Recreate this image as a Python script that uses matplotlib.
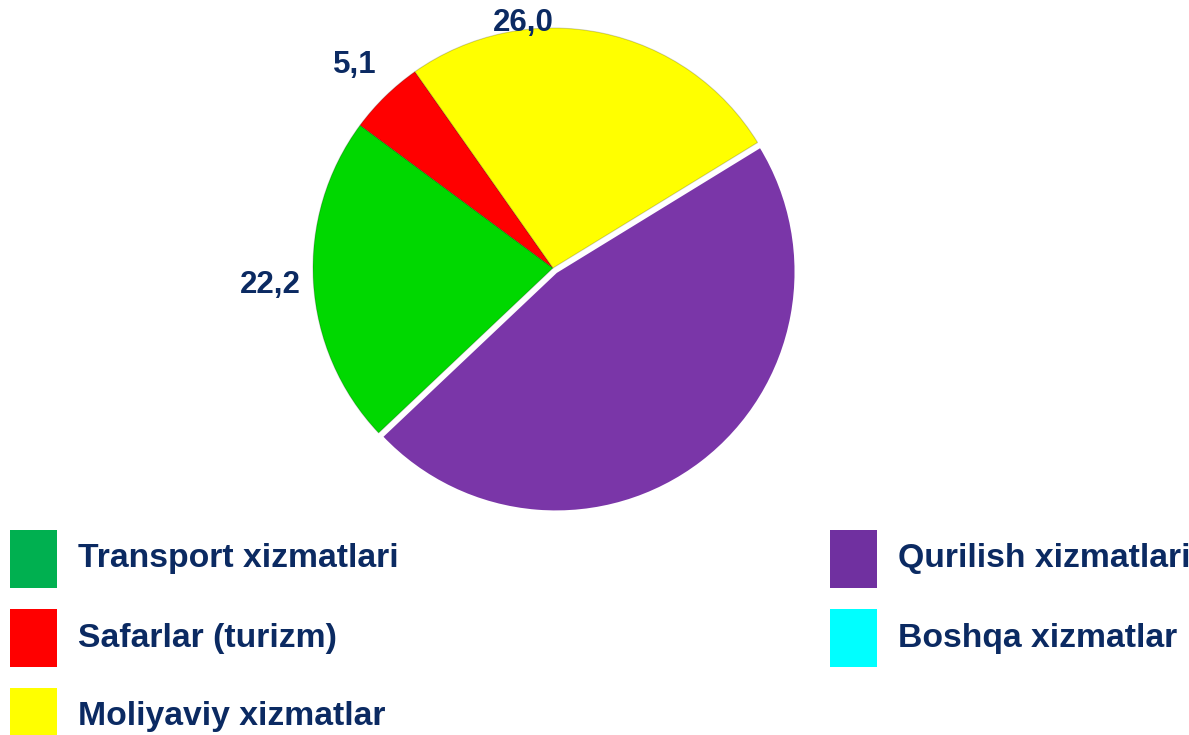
import matplotlib.pyplot as plt
from matplotlib.patches import Rectangle
import numpy as np

plt.rcParams['font.family'] = ['Liberation Sans', 'DejaVu Sans']

# data
categories = ["Transport xizmatlari", "Safarlar (turizm)", "Moliyaviy xizmatlar",
              "Qurilish xizmatlari", "Boshqa xizmatlar"]
shares = [22.2, 5.1, 26.0, 46.7, 0.0]
value_labels = ["22,2", "5,1", "26,0", "", ""]
pie_colors = ["#00D800", "#FF0000", "#FFFF00", "#7A36A8", "#00FFFF"]
legend_colors = ["#00B050", "#FF0000", "#FFFF00", "#7030A0", "#00FFFF"]
text_color = "#0B2A62"

W, H = 1189, 735
fig = plt.figure(figsize=(W / 100, H / 100), dpi=100)

# pie axes: centre (553, 268) px, radius 240 px
cx, cy, r, half = 553, 268, 240, 250
ax = fig.add_axes([(cx - half) / W, (H - cy - half) / H, 2 * half / W, 2 * half / H])

n = 4  # Boshqa has no slice
wedges, texts = ax.pie(shares[:n], colors=pie_colors[:n], labels=value_labels[:n],
                       startangle=223.4, counterclock=False, radius=1.0,
                       explode=[0, 0, 0, 0.02], labeldistance=1.18,
                       wedgeprops=dict(edgecolor="#00000030", linewidth=0.8),
                       textprops=dict(fontsize=22.5, fontweight="bold", color=text_color))
wedges[3].set_edgecolor("white")
wedges[3].set_linewidth(2)
for t in texts:
    t.set_ha("center")
    t.set_va("center")
# the yellow value sits above the slice in the original
ang = np.deg2rad(97)
texts[2].set_position((1.03 * np.cos(ang), 1.03 * np.sin(ang)))

lim = half / r
ax.set_xlim(-lim, lim)
ax.set_ylim(-lim, lim)
ax.set_aspect("equal")
ax.axis("off")

# legend drawn in pixel coordinates (two columns)
for i, (lab, col) in enumerate(zip(categories, legend_colors)):
    c, row = divmod(i, 3)
    x0 = 10 if c == 0 else 830
    top = 530 + 79 * row
    fig.patches.append(Rectangle((x0 / W, 1 - (top + 58) / H), 47 / W, 58 / H,
                                 transform=fig.transFigure, facecolor=col,
                                 edgecolor="none"))
    fig.text((x0 + 68) / W, 1 - (top + 29) / H, lab, fontsize=24.3, fontweight="bold",
             color=text_color, ha="left", va="center")

fig.savefig("out.png", dpi=100)
